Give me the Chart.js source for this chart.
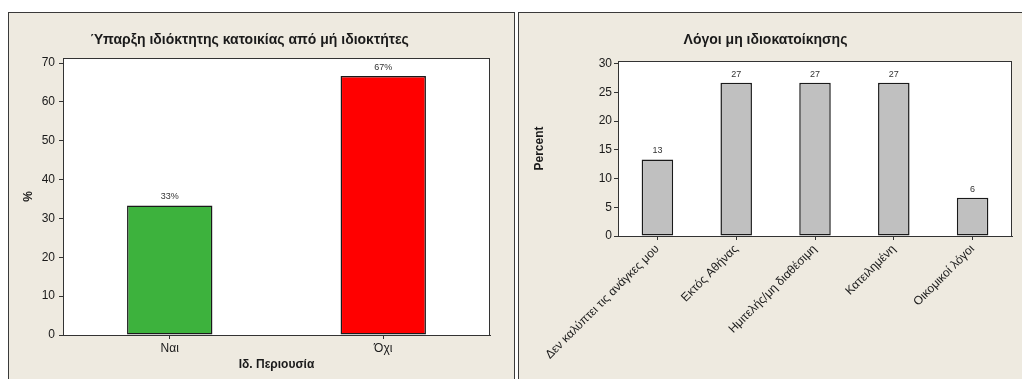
<!DOCTYPE html>
<html>
<head>
<meta charset="utf-8">
<script src="https://cdn.jsdelivr.net/npm/chart.js@4"></script>
<style>
  html, body { margin: 0; padding: 0; background: #fff; overflow: hidden; }
  body { width: 1022px; height: 379px; position: relative; }
  .panel {
    position: absolute; top: 12px; height: 380px; box-sizing: border-box;
    background: #EEEAE0; border: 1px solid #3a3a3a; border-bottom: none;
  }
  #panelLeft { left: 8px; width: 507px; }
  #panelRight { left: 518px; width: 520px; border-right: none; }
  canvas { position: absolute; left: 0; top: 0; }
</style>
</head>
<body>
<div class="panel" id="panelLeft"><canvas id="graficoPosse" width="505" height="366"></canvas></div>
<div class="panel" id="panelRight"><canvas id="graficoMotivos" width="503" height="366"></canvas></div>
<script>
// Dados do gráfico da esquerda
const categoriasPosse = ['Ναι', 'Όχι'];
const valoresPosse = [33.33, 66.67];
const rotulosPosse = ['33%', '67%'];
const coresPosse = ['#3DB23D', '#FF0000'];
const ticksPosse = [0, 10, 20, 30, 40, 50, 60, 70];

// Dados do gráfico da direita
const categoriasMotivos = ['Δεν καλύπτει τις ανάγκες μου', 'Εκτός Αθήνας', 'Ημιτελής/μη διαθέσιμη', 'Κατειλημένη', 'Οικομικοί λόγοι'];
const valoresMotivos = [13.33, 26.67, 26.67, 26.67, 6.67];
const rotulosMotivos = ['13', '27', '27', '27', '6'];
const ticksMotivos = [0, 5, 10, 15, 20, 25, 30];

const FONTE = "'Liberation Sans', Arial, sans-serif";
const COR_TEXTO = '#1a1a1a';
Chart.defaults.font.family = FONTE;
Chart.defaults.color = COR_TEXTO;

// Fundo branco e moldura da área do gráfico
const pluginMoldura = {
  id: 'moldura',
  beforeDraw(chart) {
    const a = chart.chartArea, ctx = chart.ctx;
    ctx.save();
    ctx.fillStyle = '#ffffff';
    ctx.fillRect(a.left, a.top, a.right - a.left, a.bottom - a.top);
    ctx.restore();
  },
  afterDraw(chart) {
    const a = chart.chartArea, ctx = chart.ctx;
    ctx.save();
    ctx.strokeStyle = '#333';
    ctx.lineWidth = 1;
    ctx.strokeRect(a.left + 0.5, a.top + 0.5, a.right - a.left - 1, a.bottom - a.top);
    ctx.restore();
  }
};

// Rótulos em cima das barras
const pluginRotulos = {
  id: 'rotulos',
  afterDatasetsDraw(chart, args, opts) {
    const ctx = chart.ctx;
    const meta = chart.getDatasetMeta(0);
    ctx.save();
    ctx.font = '9px ' + FONTE;
    ctx.fillStyle = '#333';
    ctx.textAlign = 'center';
    ctx.textBaseline = 'bottom';
    meta.data.forEach(function (barra, i) {
      ctx.fillText(opts.textos[i], barra.x, barra.y - 4);
    });
    ctx.restore();
  }
};

function eixoY(ticks, max, titulo, largura, pad, tituloPad) {
  return {
    min: 0, max: max,
    afterBuildTicks: function (s) { s.ticks = ticks.map(v => ({ value: v })); },
    afterFit: function (s) { s.width = largura; },
    ticks: { font: { size: 12 }, color: COR_TEXTO, padding: pad },
    grid: { display: true, drawOnChartArea: false, drawTicks: true, tickLength: 4, tickColor: '#333' },
    border: { display: true, color: '#333' },
    title: { display: true, text: titulo, font: { size: 12, weight: 'bold' }, color: COR_TEXTO, padding: { top: tituloPad } }
  };
}

function configBase(labels, dados, cores, tituloGrafico, tituloPadBottom) {
  return {
    type: 'bar',
    data: {
      labels: labels,
      datasets: [{
        data: dados,
        backgroundColor: cores,
        borderColor: '#1a1a1a',
        borderWidth: 1.5,
        borderSkipped: false,
        categoryPercentage: 1,
        barPercentage: 0.4
      }]
    },
    plugins: [pluginMoldura, pluginRotulos],
    options: {
      responsive: false,
      animation: false,
      devicePixelRatio: 1,
      layout: { padding: { top: 0, left: 0, bottom: 0 } },
      plugins: {
        legend: { display: false },
        tooltip: { enabled: false },
        title: {
          display: true, text: tituloGrafico, color: COR_TEXTO,
          font: { size: 14, weight: 'bold', lineHeight: 1.2 },
          padding: { top: 19, bottom: tituloPadBottom }
        }
      }
    }
  };
}

// Gráfico da esquerda
const cfgPosse = configBase(categoriasPosse, valoresPosse, coresPosse, 'Ύπαρξη ιδιόκτητης κατοικίας από μή ιδιοκτήτες', 9.2);
cfgPosse.options.layout.padding.right = 24;
cfgPosse.options.plugins.rotulos = { textos: rotulosPosse };
cfgPosse.options.scales = {
  x: {
    afterFit: function (s) { s.height = 44; },
    ticks: { font: { size: 12 }, color: COR_TEXTO, padding: 2, autoSkip: false, maxRotation: 0 },
    grid: { display: true, offset: false, drawOnChartArea: false, drawTicks: true, tickLength: 4, tickColor: '#333' },
    border: { display: true, color: '#333' },
    title: { display: true, text: 'Ιδ. Περιουσία', font: { size: 12, weight: 'bold' }, color: COR_TEXTO, padding: { bottom: 6.8 } }
  },
  y: eixoY(ticksPosse, 71.3, '%', 54, 4, 12)
};
new Chart(document.getElementById('graficoPosse'), cfgPosse);

// Gráfico da direita
const cfgMotivos = configBase(categoriasMotivos, valoresMotivos, '#C0C0C0', 'Λόγοι μη ιδιοκατοίκησης', 12.2);
cfgMotivos.options.layout.padding.right = 10;
cfgMotivos.options.plugins.rotulos = { textos: rotulosMotivos };
cfgMotivos.options.scales = {
  x: {
    afterFit: function (s) { s.height = 143; },
    ticks: { font: { size: 12 }, color: COR_TEXTO, padding: 2, autoSkip: false, minRotation: 45, maxRotation: 45 },
    grid: { display: true, offset: false, drawOnChartArea: false, drawTicks: true, tickLength: 4, tickColor: '#333' },
    border: { display: true, color: '#333' }
  },
  y: eixoY(ticksMotivos, 30.45, 'Percent', 99, 2, 13)
};
new Chart(document.getElementById('graficoMotivos'), cfgMotivos);
</script>
</body>
</html>
